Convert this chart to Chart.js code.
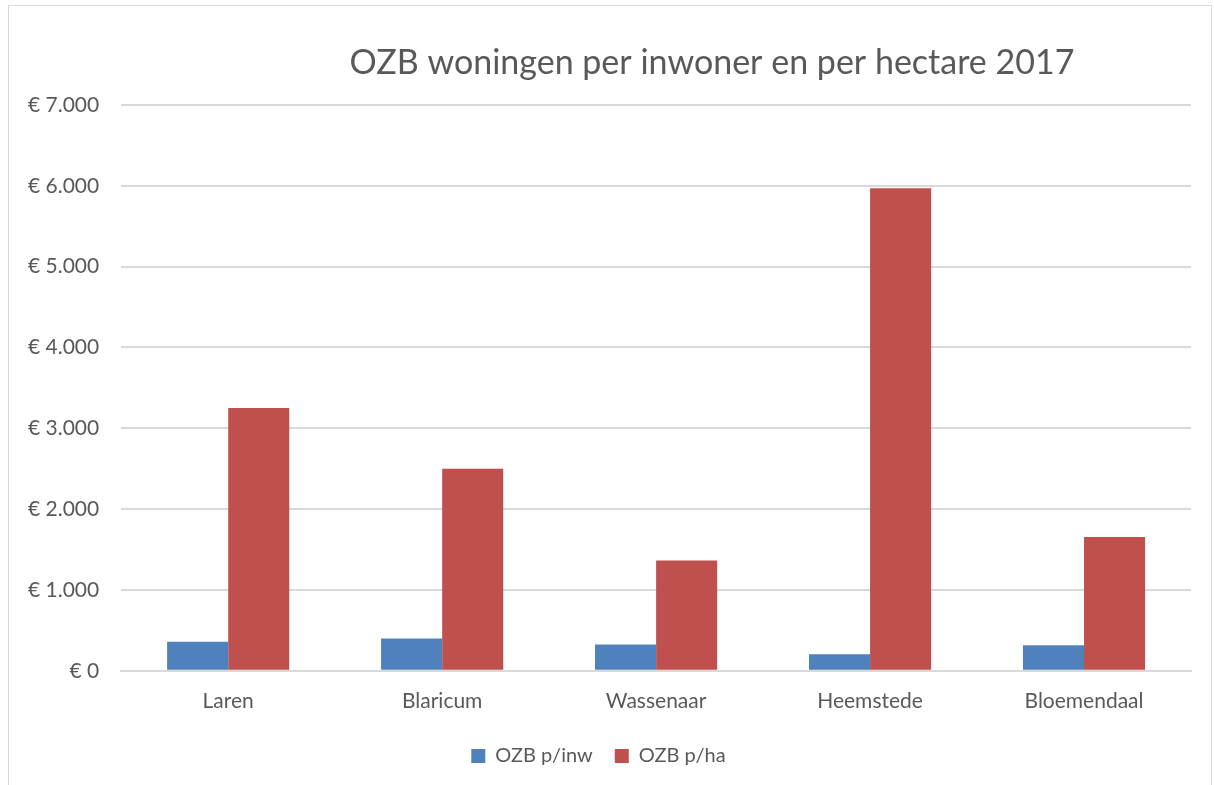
<!DOCTYPE html>
<html>
<head>
<meta charset="utf-8">
<script src="https://cdn.jsdelivr.net/npm/chart.js@4/dist/chart.umd.min.js"></script>
<style>
  body { margin: 0; background: #fff; }
  #wrap { position: relative; width: 1214px; height: 785px; }
  #frame { position: absolute; left: 8px; top: 5px; width: 1202px; height: 800px; border: 1px solid #d9d9d9; }
  canvas { position: absolute; left: 0; top: 0; }
</style>
</head>
<body>
<div id="wrap">
  <div id="frame"></div>
  <canvas id="myChart" width="1214" height="785"></canvas>
</div>
<script>
const gemeenten = ['Laren', 'Blaricum', 'Wassenaar', 'Heemstede', 'Bloemendaal'];
const ozbPerInwoner = [360, 400, 325, 205, 315];
const ozbPerHectare = [3250, 2500, 1365, 5970, 1655];
const yTicks = [0, 1000, 2000, 3000, 4000, 5000, 6000, 7000];
const titel = 'OZB woningen per inwoner en per hectare 2017';

const font = 'Lato, "Open Sans", sans-serif';

// title is drawn by hand, Excel puts it a bit right of centre
const titlePlugin = {
  id: 'excelTitle',
  afterDraw(chart) {
    const c = chart.ctx;
    c.save();
    c.font = '34px ' + font;
    c.fillStyle = '#595959';
    c.textAlign = 'center';
    c.textBaseline = 'middle';
    c.fillText(titel, 712, 63);
    c.restore();
  }
};

const ctx = document.getElementById('myChart').getContext('2d');

const myChart = new Chart(ctx, {
  type: 'bar',
  data: {
    labels: gemeenten,
    datasets: [{
      label: 'OZB p/inw',
      data: ozbPerInwoner,
      backgroundColor: '#4f81bd'
    }, {
      label: 'OZB p/ha',
      data: ozbPerHectare,
      backgroundColor: '#c0504d'
    }]
  },
  options: {
    responsive: false,
    animation: false,
    layout: { padding: { top: 105, left: 6, right: 23, bottom: 9 } },
    datasets: { bar: { categoryPercentage: 0.571, barPercentage: 1 } },
    scales: {
      x: {
        grid: { display: false },
        border: { color: '#d9d9d9', width: 2 },
        ticks: { color: '#595959', font: { family: font, size: 21 }, padding: 10 }
      },
      y: {
        min: 0,
        max: 7000,
        afterBuildTicks: axis => { axis.ticks = yTicks.map(v => ({ value: v })); },
        grid: { color: '#d9d9d9', lineWidth: 2, drawTicks: false },
        border: { display: false },
        ticks: {
          color: '#595959',
          font: { family: font, size: 21 },
          padding: 22,
          callback: v => '€ ' + v.toLocaleString('nl-NL')
        }
      }
    },
    plugins: {
      legend: {
        position: 'bottom',
        labels: { boxWidth: 14, boxHeight: 14, color: '#595959', font: { family: font, size: 20 }, padding: 22 }
      },
      tooltip: { enabled: false }
    }
  },
  plugins: [titlePlugin]
});
</script>
</body>
</html>
